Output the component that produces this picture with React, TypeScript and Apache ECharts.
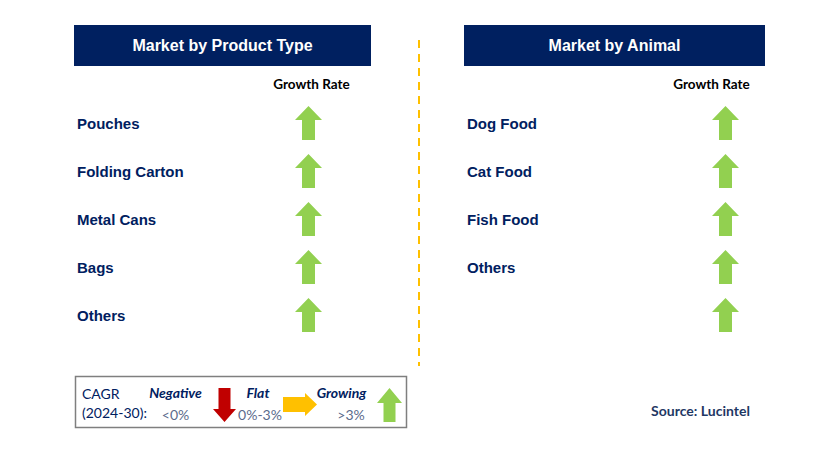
import React, { useEffect, useRef } from "react";
import * as echarts from "echarts";

const productTypes = ["Pouches", "Folding Carton", "Metal Cans", "Bags", "Others"];
const productGrowth = ["up", "up", "up", "up", "up"];
const animals = ["Dog Food", "Cat Food", "Fish Food", "Others", ""];
const animalGrowth = ["up", "up", "up", "up", "up"];
const panelTitles = ["Market by Product Type", "Market by Animal"];
const columnTitle = "Growth Rate";
const legendLabels = ["Negative", "Flat", "Growing"];
const legendRanges = ["<0%", "0%-3%", ">3%"];
const sourceText = "Source: Lucintel";

const NAVY = "#002060";
const GREEN = "#92D050";

function upArrow(cx: number, ty: number, w: number, h: number, sw: number, hh: number, color: string) {
  return {
    type: "polygon",
    shape: {
      points: [
        [cx, ty],
        [cx + w / 2, ty + hh],
        [cx + sw / 2, ty + hh],
        [cx + sw / 2, ty + h],
        [cx - sw / 2, ty + h],
        [cx - sw / 2, ty + hh],
        [cx - w / 2, ty + hh],
      ],
    },
    style: { fill: color },
  };
}

function downArrow(cx: number, ty: number, w: number, h: number, sw: number, hh: number, color: string) {
  const by = ty + h;
  return {
    type: "polygon",
    shape: {
      points: [
        [cx, by],
        [cx + w / 2, by - hh],
        [cx + sw / 2, by - hh],
        [cx + sw / 2, ty],
        [cx - sw / 2, ty],
        [cx - sw / 2, by - hh],
        [cx - w / 2, by - hh],
      ],
    },
    style: { fill: color },
  };
}

function rightArrow(lx: number, cy: number, len: number, h: number, sh: number, hl: number, color: string) {
  const rx = lx + len;
  return {
    type: "polygon",
    shape: {
      points: [
        [rx, cy],
        [rx - hl, cy - h / 2],
        [rx - hl, cy - sh / 2],
        [lx, cy - sh / 2],
        [lx, cy + sh / 2],
        [rx - hl, cy + sh / 2],
        [rx - hl, cy + h / 2],
      ],
    },
    style: { fill: color },
  };
}

function arrowFor(dir: string, cx: number, ty: number) {
  if (dir === "down") return downArrow(cx, ty, 27, 34, 13, 14, "#C00000");
  if (dir === "flat") return rightArrow(cx - 17, ty + 17, 34, 23, 15, 12, "#FFC000");
  return upArrow(cx, ty, 27, 34, 13, 14, GREEN);
}

function panel(x0: number, x1: number, title: string, cats: string[], dirs: string[], arrowX: number, growthX: number) {
  const els: any[] = [];
  els.push({ type: "rect", shape: { x: x0, y: 25, width: x1 - x0, height: 41 }, style: { fill: NAVY } });
  els.push({
    type: "text",
    x: (x0 + x1) / 2,
    y: 45.5,
    style: {
      text: title,
      fill: "#ffffff",
      font: "bold 16px 'Liberation Sans', Arial, sans-serif",
      align: "center",
      verticalAlign: "middle",
    },
  });
  els.push({
    type: "text",
    x: growthX,
    y: 84,
    style: {
      text: columnTitle,
      fill: "#000000",
      font: "bold 13.5px Lato, 'Open Sans', sans-serif",
      align: "center",
      verticalAlign: "middle",
    },
  });
  dirs.forEach((d, i) => {
    const cy = 123 + i * 48;
    if (cats[i]) {
      els.push({
        type: "text",
        x: x0 + 3,
        y: cy,
        style: {
          text: cats[i],
          fill: NAVY,
          font: "bold 15px 'Liberation Sans', Arial, sans-serif",
          align: "left",
          verticalAlign: "middle",
        },
      });
    }
    els.push(arrowFor(d, arrowX, 106 + i * 48));
  });
  return els;
}

export default function App() {
  const ref = useRef<HTMLDivElement>(null);
  useEffect(() => {
    if (!ref.current) return;
    const chart = echarts.init(ref.current, null, { renderer: "svg" });
    const els: any[] = [];
    els.push(...panel(74, 371, panelTitles[0], productTypes, productGrowth, 308.5, 311.5));
    els.push(...panel(464, 765, panelTitles[1], animals, animalGrowth, 725.5, 711.5));
    els.push({
      type: "line",
      shape: { x1: 419, y1: 40, x2: 419, y2: 366 },
      style: { stroke: "#FFC000", lineWidth: 2, lineDash: [8, 6] },
    });
    // legend box
    els.push({
      type: "rect",
      shape: { x: 75.5, y: 376.5, width: 331, height: 51 },
      style: { fill: "#ffffff", stroke: "#7f7f7f", lineWidth: 1.5 },
    });
    const lf = "14px Lato, 'Open Sans', sans-serif";
    els.push({ type: "text", x: 82, y: 393, style: { text: "CAGR", fill: NAVY, font: lf, verticalAlign: "middle" } });
    els.push({ type: "text", x: 82, y: 412, style: { text: "(2024-30):", fill: NAVY, font: lf, verticalAlign: "middle" } });
    const labelX = [175.5, 258, 341.5];
    const rangeX = [175.5, 260, 351];
    legendLabels.forEach((l, i) => {
      els.push({
        type: "text",
        x: labelX[i],
        y: 392,
        style: { text: l, fill: NAVY, font: "italic bold 14px Lato, 'Open Sans', sans-serif", align: "center", verticalAlign: "middle" },
      });
      els.push({
        type: "text",
        x: rangeX[i],
        y: 414,
        style: { text: legendRanges[i], fill: "#5b6b8c", font: lf, align: "center", verticalAlign: "middle" },
      });
    });
    els.push(downArrow(224.5, 388, 23, 34, 12, 13, "#C00000"));
    els.push(rightArrow(283, 404.5, 34, 23, 15, 12, "#FFC000"));
    els.push(upArrow(389.5, 388, 25, 34, 12, 15, GREEN));
    els.push({
      type: "text",
      x: 700.5,
      y: 410,
      style: { text: sourceText, fill: "#1F3864", font: "bold 14px Lato, 'Open Sans', sans-serif", align: "center", verticalAlign: "middle" },
    });
    chart.setOption({ animation: false, backgroundColor: "#ffffff", graphic: { elements: els } });
    return () => chart.dispose();
  }, []);
  return <div ref={ref} style={{ position: "fixed", left: 0, top: 0, width: 829, height: 454 }} />;
}
